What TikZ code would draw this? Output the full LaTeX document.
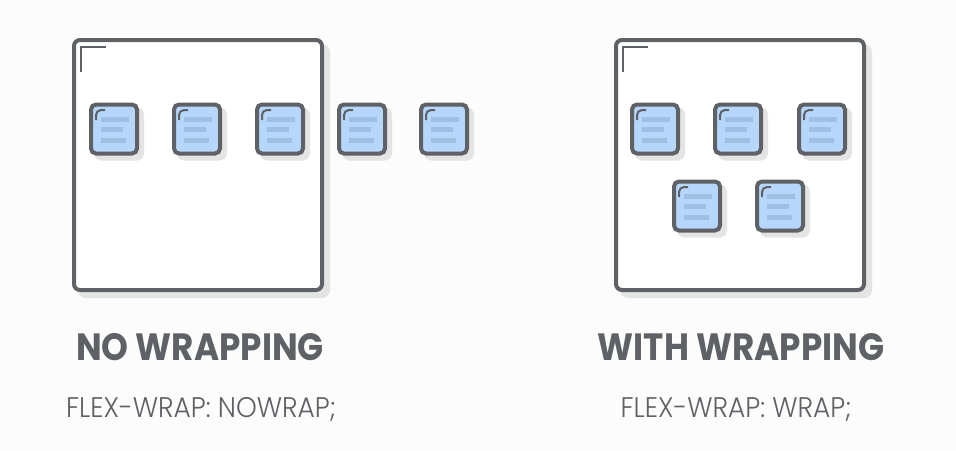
\documentclass[tikz,border=0pt]{standalone}
\usepackage{fontspec}
\setmainfont{Poppins}
\newfontfamily\titlefont{Poppins}[UprightFont=* Bold]
\newfontfamily\subfont{Poppins}[UprightFont=* Light]
\definecolor{bg}{HTML}{FCFCFC}
\definecolor{dk}{HTML}{5E6165}
\definecolor{shd}{HTML}{E4E4E4}
\definecolor{itemblue}{HTML}{B6D6FB}
\definecolor{lineblue}{HTML}{9FBFE3}
\tikzset{
  container/.style={draw=dk, line width=4pt, fill=white, rounded corners=6pt,
    preaction={fill=shd, draw=shd, line width=4pt, transform canvas={shift={(6pt,-6pt)}}}},
  item/.style={draw=dk, line width=4pt, fill=itemblue, rounded corners=5pt,
    minimum width=46pt, minimum height=49pt, inner sep=0pt,
    preaction={fill=shd, draw=shd, line width=4pt, transform canvas={shift={(5pt,-5pt)}}},
    path picture={
      \begin{scope}[shift={(path picture bounding box.center)}]
        \draw[lineblue, line width=5pt] (-13pt,10pt) -- (15pt,10pt);
        \draw[lineblue, line width=5pt] (-13pt,0pt) -- (9pt,0pt);
        \draw[lineblue, line width=5pt] (-13pt,-11pt) -- (12pt,-11pt);
        \draw[dk, line width=2pt] (-18pt,9pt) -- (-18pt,19pt) -- (-9pt,19pt);
      \end{scope}
    }},
  cmark/.style={draw=dk, line width=2pt},
  title/.style={text=dk, font=\titlefont\fontsize{38}{44}\selectfont, inner sep=0pt},
  sub/.style={text=dk, font=\subfont\fontsize{27}{32}\selectfont, inner sep=0pt},
}
\begin{document}
\begin{tikzpicture}[x=1pt,y=-1pt]
\fill[bg] (0,0) rectangle (956,450);
\useasboundingbox (0,0) rectangle (956,450);
% left container
\path[container] (74,40) rectangle (322,290);
\coordinate (lc1) at (81,72);
\coordinate (lc2) at (81,47);
\coordinate (lc3) at (106,47);
\draw[cmark] (lc1) -- (lc2) -- (lc3);
\foreach \i/\x in {1/114,2/197,3/280,4/362,5/444}{
  \node[item] (l\i) at (\x,129) {};
}
% right container
\path[container] (616,40) rectangle (864,290);
\coordinate (rc1) at (623,72);
\coordinate (rc2) at (623,47);
\coordinate (rc3) at (648,47);
\draw[cmark] (rc1) -- (rc2) -- (rc3);
\foreach \i/\x/\y in {1/655/129,2/738/129,3/822/129,4/697/206,5/780/206}{
  \node[item] (r\i) at (\x,\y) {};
}
\node[title] (t1) at (200,347) {\scalebox{0.9}[1]{NO WRAPPING}};
\node[sub] (s1) at (201,410) {\scalebox{0.98}[1.05]{FLEX-WRAP: NOWRAP;}};
\node[title] (t2) at (741,347) {\scalebox{0.9}[1]{WITH WRAPPING}};
\node[sub] (s2) at (736,410) {\scalebox{0.98}[1.05]{FLEX-WRAP: WRAP;}};
\end{tikzpicture}
\end{document}
